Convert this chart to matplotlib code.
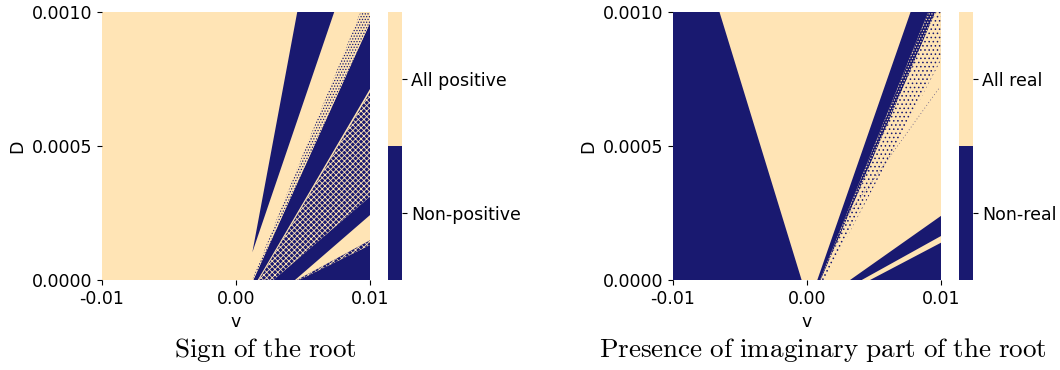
import matplotlib

matplotlib.use("Agg")
import matplotlib.pyplot as plt  # noqa: E402
from matplotlib.colors import ListedColormap, Normalize  # noqa: E402
from matplotlib.cm import ScalarMappable  # noqa: E402

NAVY = "#191970"
WHEAT = "#ffe4b5"

plt.rcParams["mathtext.fontset"] = "cm"
plt.rcParams["hatch.linewidth"] = 0.6

# region outlines, (v, D) vertices
# left panel: sign of the root
sign_solid = [
    [(0.00123, 0.000103), (0.00458, 0.001), (0.00734, 0.001)],
    [(0.00130, 0.0), (0.01, 0.000958), (0.01, 0.000712), (0.00163, 0.0)],
    [(0.00280, 0.0), (0.01, 0.000311), (0.01, 0.000242), (0.00441, 0.0)],
    [(0.00472, 0.0), (0.01, 0.000130), (0.01, 0.0)],
]
sign_mixed = [
    [(0.00172, 0.0), (0.01, 0.000700), (0.01, 0.000311), (0.00280, 0.0)],
    [(0.00455, 0.0), (0.01, 0.000148), (0.01, 0.000130), (0.00472, 0.0)],
]
sign_fringe = [
    [(0.00122, 0.0), (0.0093, 0.001), (0.01, 0.001), (0.01, 0.000958), (0.00130, 0.0)],
]

# right panel: imaginary part present
imag_solid = [
    [(-0.01, 0.0), (-0.01, 0.001), (-0.00652, 0.001), (-0.00039, 0.0)],
    [(0.00078, 0.0), (0.00774, 0.001), (0.00906, 0.001), (0.00098, 0.0)],
    [(0.00322, 0.0), (0.01, 0.000239), (0.01, 0.000164), (0.00409, 0.0)],
    [(0.00471, 0.0), (0.01, 0.000139), (0.01, 0.0)],
]
imag_fringe_dense = [
    [(0.00098, 0.0), (0.00906, 0.001), (0.0096, 0.001), (0.00104, 0.0)],
]
imag_fringe_sparse = [
    [(0.00104, 0.0), (0.0096, 0.001), (0.01, 0.001), (0.01, 0.00082), (0.0013, 0.0)],
]
imag_streak_v = [0.00297, 0.00993]
imag_streak_d = [0.000236, 0.00072]

xticks = [-0.01, 0.0, 0.01]
xticklabels = ["-0.01", "0.00", "0.01"]
yticks = [0.0, 0.0005, 0.001]
yticklabels = ["0.0000", "0.0005", "0.0010"]

W, H = 1060, 370
fig = plt.figure(figsize=(W / 100, H / 100), dpi=100)


def px(x0, y0, w, h):
    return [x0 / W, 1 - (y0 + h) / H, w / W, h / H]


ax1 = fig.add_axes(px(101.7, 11.7, 268.3, 268.3))
ax2 = fig.add_axes(px(672.7, 11.7, 268.3, 268.3))
cax1 = fig.add_axes(px(388.3, 11.7, 13.4, 268.3))
cax2 = fig.add_axes(px(959.3, 11.7, 13.4, 268.3))


def poly(ax, verts, hatch=None, fc=NAVY, hc=WHEAT):
    xs = [p[0] for p in verts]
    ys = [p[1] for p in verts]
    if hatch is None:
        ax.fill(xs, ys, facecolor=fc, edgecolor="none", lw=0, zorder=2)
    else:
        ax.fill(xs, ys, facecolor=fc, edgecolor=hc, hatch=hatch, lw=0, zorder=2)


for v in sign_solid:
    poly(ax1, v)
for v in sign_mixed:
    poly(ax1, v, hatch="xxxxxx")
for v in sign_fringe:
    poly(ax1, v, hatch="......", fc=WHEAT, hc=NAVY)

for v in imag_solid:
    poly(ax2, v)
for v in imag_fringe_dense:
    poly(ax2, v, hatch="......", fc=NAVY, hc=WHEAT)
for v in imag_fringe_sparse:
    poly(ax2, v, hatch="....", fc=WHEAT, hc=NAVY)
ax2.plot(imag_streak_v, imag_streak_d, color=NAVY, lw=0.6, ls=(0, (1, 3)), alpha=0.7, zorder=3)

for ax in (ax1, ax2):
    ax.set_facecolor(WHEAT)
    ax.set_xlim(-0.01, 0.01)
    ax.set_ylim(0, 0.001)
    ax.set_xticks(xticks)
    ax.set_xticklabels(xticklabels, fontsize=12.5)
    ax.set_yticks(yticks)
    ax.set_yticklabels(yticklabels, fontsize=12.5)
    ax.set_xlabel("v", fontsize=12.5)
    ax.set_ylabel("D", fontsize=12.5)
    for s in ax.spines.values():
        s.set_visible(False)

cmap = ListedColormap([NAVY, WHEAT])
for cax, labels in ((cax1, ["Non-positive", "All positive"]), (cax2, ["Non-real", "All real"])):
    cb = fig.colorbar(ScalarMappable(norm=Normalize(0, 1), cmap=cmap), cax=cax, ticks=[0.25, 0.75])
    cb.set_ticklabels(labels, fontsize=12.5)
    cb.outline.set_visible(False)

fig.text(265 / W, 1 - 357 / H, r"$\mathrm{Sign\ of\ the\ root}$", ha="center", va="baseline", fontsize=19.5)
fig.text(823 / W, 1 - 357 / H, r"$\mathrm{Presence\ of\ imaginary\ part\ of\ the\ root}$",
         ha="center", va="baseline", fontsize=19.5)

fig.savefig("out.png", dpi=100)
